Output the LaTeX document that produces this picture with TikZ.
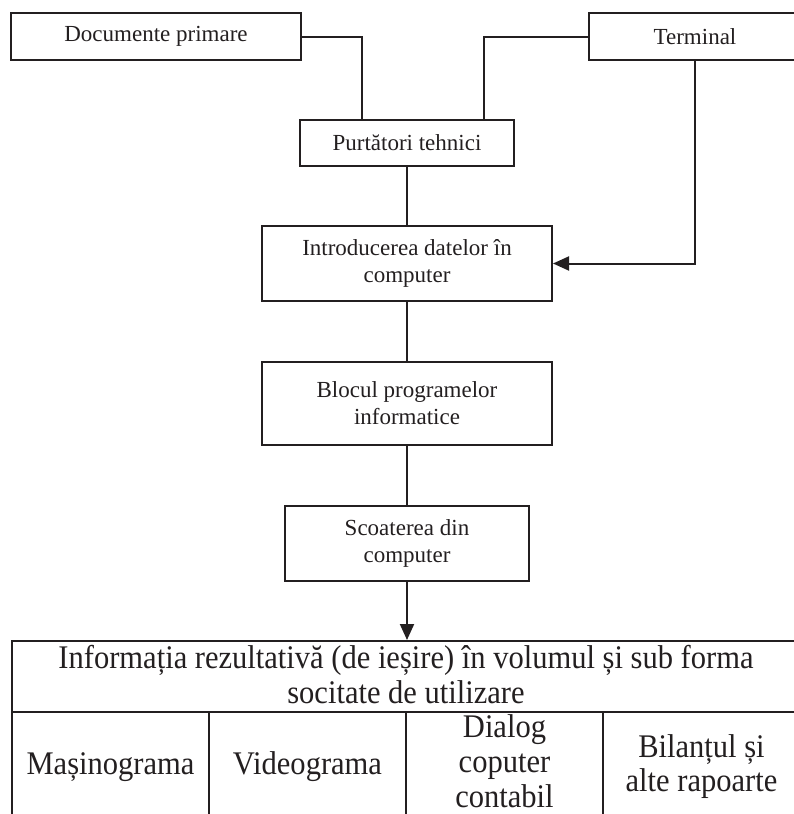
\documentclass[tikz,border=0pt]{standalone}
\usepackage{fontspec}
\setmainfont{Liberation Serif}
\newfontfamily\tablefont[FakeStretch=0.925]{Liberation Serif}
\usetikzlibrary{arrows.meta}
\definecolor{ink}{HTML}{231F20}
\begin{document}
\begin{tikzpicture}[x=1pt, y=-1pt,
  line width=2pt,
  box/.style={draw=ink, line width=2pt, rectangle, inner sep=0pt,
    align=center, text=ink, font=\fontsize{23}{27}\selectfont},
  cell/.style={draw=ink, line width=2pt, rectangle, inner sep=0pt},
  celltext/.style={inner sep=0pt, align=center, text=ink,
    font=\tablefont\fontsize{33}{34}\selectfont},
  link/.style={draw=ink, line width=2pt},
  flow/.style={link, -{Triangle[length=16pt, width=14pt]}}]
\useasboundingbox (0,0) rectangle (794,814);
\clip (0,0) rectangle (794,814);

% upper flow of blocks
\node[box, minimum width=290pt, minimum height=47pt] (doc) at (156,36.5) {Documente primare};
\node[box, minimum width=212pt, minimum height=47pt] (term) at (695,36.5) {Terminal};
\node[box, minimum width=214pt, minimum height=46pt] (purt) at (407,143) {Purtători tehnici};
\node[box, minimum width=290pt, minimum height=75pt] (intro) at (407,263.5) {Introducerea datelor în\\computer};
\node[box, minimum width=290pt, minimum height=83pt] (bloc) at (407,403.5) {Blocul programelor\\informatice};
\node[box, minimum width=244pt, minimum height=75pt] (scoat) at (407,543.5) {Scoaterea din\\computer};

% result table (its right and lower edges run past the page)
\node[cell, minimum width=788pt, minimum height=71pt] (hdr) at (406,676.5) {};
\node[celltext, font=\tablefont\fontsize{33}{35}\selectfont] (hdrtext) at (406,674.5)
  {Informația rezultativă (de ieșire) în volumul și sub forma\\socitate de utilizare};
\node[cell, minimum width=197pt, minimum height=110pt] (c1) at (110.5,767) {};
\node[cell, minimum width=197pt, minimum height=110pt] (c2) at (307.5,767) {};
\node[cell, minimum width=197pt, minimum height=110pt] (c3) at (504.5,767) {};
\node[cell, minimum width=197pt, minimum height=110pt] (c4) at (701.5,767) {};
\node[celltext] (t1) at (c1.center) {Mașinograma};
\node[celltext] (t2) at (c2.center) {Videograma};
\node[celltext, font=\tablefont\fontsize{33}{35}\selectfont] (t3) at ([yshift=5.5pt]c3.center) {Dialog\\coputer\\contabil};
\node[celltext] (t4) at (c4.center) {Bilanțul și\\alte rapoarte};

% connectors
\draw[link] (doc.east) -| ([xshift=-45pt]purt.north);
\draw[link] (term.west) -| ([xshift=77pt]purt.north);
\draw[flow] (term.south) |- (intro.east);
\draw[link] (purt.south) -- (intro.north);
\draw[link] (intro.south) -- (bloc.north);
\draw[link] (bloc.south) -- (scoat.north);
\draw[flow] (scoat.south) -- (scoat.south |- hdr.north);
\end{tikzpicture}
\end{document}
